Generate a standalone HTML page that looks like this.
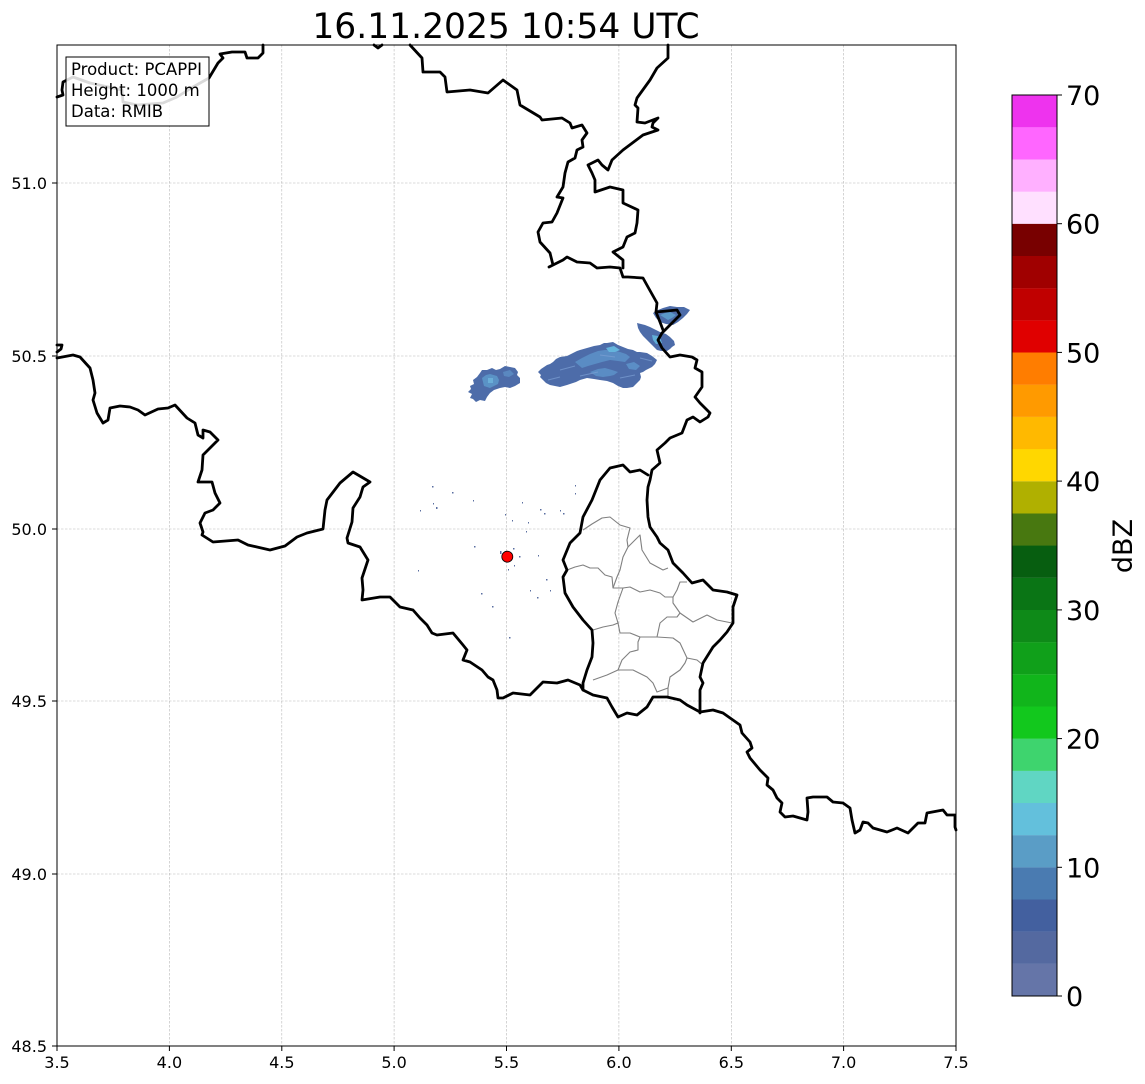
<!DOCTYPE html>
<html><head><meta charset="utf-8"><style>
html,body{margin:0;padding:0;background:#fff;}
svg{display:block;font-family:"DejaVu Sans","Liberation Sans",sans-serif;}
</style></head><body>
<svg width="1145" height="1084" viewBox="0 0 1145 1084" xmlns="http://www.w3.org/2000/svg">
<rect width="1145" height="1084" fill="#fff"/>
<text x="506" y="38" font-size="34.5" text-anchor="middle" fill="#000">16.11.2025 10:54 UTC</text>

<!-- grid -->
<g stroke="#b8b8b8" stroke-width="0.6" stroke-dasharray="2.5,1.5" fill="none">
<line x1="169.4" y1="45" x2="169.4" y2="1046"/>
<line x1="281.8" y1="45" x2="281.8" y2="1046"/>
<line x1="394.1" y1="45" x2="394.1" y2="1046"/>
<line x1="506.5" y1="45" x2="506.5" y2="1046"/>
<line x1="618.9" y1="45" x2="618.9" y2="1046"/>
<line x1="731.3" y1="45" x2="731.3" y2="1046"/>
<line x1="843.6" y1="45" x2="843.6" y2="1046"/>
<line x1="57" y1="183" x2="956" y2="183"/>
<line x1="57" y1="356" x2="956" y2="356"/>
<line x1="57" y1="529" x2="956" y2="529"/>
<line x1="57" y1="701" x2="956" y2="701"/>
<line x1="57" y1="874" x2="956" y2="874"/>
</g>

<!-- radar echoes -->
<g>
<polygon fill="#4d6ca9" points="468,392 471,389 470,386 474,384 473,380 477,377 480,373 482,370 487,370 492,368 496,370 500,369 505,366 510,367 515,368 518,372 517,375 520,378 520,383 515,386 510,388 505,387 500,388 494,390 490,393 487,397 485,401 480,400 476,402 473,399 470,398 472,394"/>
<polygon fill="#5a92c6" points="482,378 486,375 490,374 497,376 499,380 498,384 494,386 490,388 484,386"/>
<polygon fill="#6aaed8" points="488,378 493,378 493,383 488,383"/>
<polygon fill="#5a88c0" points="503,372 510,370 514,374 509,377 504,376"/>
<polygon fill="#4d6ca9" points="538,372 541,369 544,367 547,365 550,364 553,362 556,359 560,357 567,356 573,353 577,351 580,350 587,348 594,346 600,345 604,343 607,343 613,342 618,345 623,347 628,349 633,350 637,352 640,352 647,353 652,356 657,360 655,364 652,367 646,370 643,372 640,373 641,377 640,380 636,384 633,387 627,388 623,388 618,386 613,383 607,381 600,380 594,379 587,378 580,380 576,382 573,383 567,385 560,387 555,386 550,385 546,383 543,380 540,377 541,375"/>
<polygon fill="#5a8cc4" points="575,362 582,358 590,354 598,351 605,350 612,350 620,352 626,354 630,357 625,362 618,361 610,360 602,362 595,364 588,366 582,368"/>
<polygon fill="#64b4dc" points="606,348 614,346 620,350 615,352 609,352"/>
<polygon fill="#5a8cc4" points="590,372 598,369 605,368 612,370 618,372 614,375 610,376 603,377 596,376"/>
<polygon fill="#5b8ec6" points="626,364 634,362 640,366 636,370 629,369"/>
<g stroke="#7da0d4" stroke-width="1" opacity="0.7">
<line x1="560" y1="370" x2="575" y2="366"/><line x1="580" y1="376" x2="598" y2="372"/><line x1="600" y1="355" x2="615" y2="357"/><line x1="620" y1="378" x2="635" y2="375"/><line x1="548" y1="380" x2="560" y2="377"/><line x1="640" y1="358" x2="652" y2="361"/>
</g>
<polygon fill="#4d6ca9" points="637,323 641,324 645,325 650,327 656,330 660,332 666,334 670,337 674,341 675,345 672,347 670,349 667,351 661,351 657,350 652,345 647,340 643,336 640,332 638,328"/>
<polygon fill="#62b0d8" points="652,335 658,336 660,337 662,343 656,344 653,340"/>
<polygon fill="#4d6ca9" points="653,313 658,310 663,308 670,306 677,307 684,307 690,310 687,314 683,318 678,322 673,325 666,324 660,322 656,318"/>
<polygon fill="#5b98c8" points="660,315 665,313 670,312 676,315 672,318 668,320"/>
<g fill="#5a6ea0">
<rect x="432" y="486" width="1.5" height="1.5"/><rect x="452" y="492" width="1.5" height="1.5"/><rect x="436" y="507" width="1.5" height="2"/><rect x="420" y="510" width="1" height="1.5"/><rect x="474" y="546" width="1.5" height="1.5"/><rect x="473" y="500" width="1" height="1.5"/><rect x="500" y="551" width="1.5" height="3"/><rect x="513" y="548" width="1.5" height="1.5"/><rect x="519" y="556" width="1.5" height="1.5"/><rect x="514" y="565" width="1" height="1.5"/><rect x="508" y="569" width="1" height="1.5"/><rect x="492" y="606" width="1.5" height="1.5"/><rect x="537" y="597" width="1.5" height="1.5"/><rect x="546" y="579" width="1.5" height="1.5"/><rect x="575" y="485" width="1" height="1.5"/><rect x="563" y="513" width="1.5" height="1.5"/><rect x="540" y="509" width="1.5" height="1.5"/><rect x="528" y="522" width="1" height="1.5"/><rect x="505" y="514" width="1" height="1.5"/><rect x="522" y="502" width="1" height="1.5"/><rect x="509" y="637" width="1.5" height="1.5"/><rect x="418" y="570" width="1" height="1.5"/><rect x="530" y="590" width="1" height="1.5"/><rect x="544" y="513" width="1.5" height="1.5"/><rect x="560" y="510" width="1" height="1.5"/><rect x="433" y="503" width="1" height="1.5"/><rect x="481" y="593" width="1.5" height="1.5"/><rect x="526" y="531" width="1" height="1.5"/><rect x="550" y="590" width="1" height="1.5"/><rect x="512" y="520" width="1" height="1.5"/><rect x="538" y="555" width="1" height="1.5"/><rect x="575" y="493" width="1" height="1.5"/>
</g>
</g>

<!-- Luxembourg cantons -->
<g fill="none" stroke="#808080" stroke-width="1.1" stroke-linejoin="round">
<polyline points="583,530 592,524 602,518 610,517 620,525 630,528 627,540 628,547 623,557 620,570 617,577 613,588"/>
<polyline points="628,547 640,535 642,550 650,563 663,570 668,568"/>
<polyline points="567,570 575,567 583,565 590,568 598,568 605,575 612,577 613,588 623,588 630,587 640,592 650,590 660,593 665,597 673,597 677,590 680,582 687,582"/>
<polyline points="623,588 618,602 615,613 618,623 613,625 603,627 593,630"/>
<polyline points="673,597 673,603 680,613 677,617 667,617 660,623 657,637"/>
<polyline points="680,613 693,622 707,615 717,620 732,623"/>
<polyline points="618,623 620,633 630,633 640,637 657,637 673,638 680,643 687,658 697,660 703,665"/>
<polyline points="640,637 638,642 638,650 630,652 622,660 618,670 607,675 593,680"/>
<polyline points="618,670 633,670 647,677 653,683 657,692 668,688 670,677 680,670 685,663 687,658"/>
<polyline points="668,688 668,697"/>
</g>

<!-- country borders -->
<g fill="none" stroke="#000" stroke-width="2.8" stroke-linejoin="round" stroke-linecap="round">
<polyline points="57,97 63,95 62,90 63,82 73,77 90,83 122,90 123,102 137,105 163,103 177,97 193,87 209,78 218,63 223,58 220,54 232,52 245,52 247,58 258,58 263,53 263,45"/>
<polyline points="374,45 378,48 382,45"/>
<polyline points="410,45 422,58 423,72 440,72 445,77 447,92 470,90 488,93 503,80 517,90 520,105 540,117 542,120 562,118 570,123 572,128 582,125 587,133 582,140 583,147 577,150 575,158 568,162 565,173 563,187 557,197 563,198 557,213 552,222 543,223 538,232 540,242 550,253 553,265 549,267 563,260 567,257 577,262 590,263 597,268 610,267 620,268 623,277 628,277 643,278 648,287 657,303 656,312 677,310 680,315 672,323 662,333 658,340 662,348 670,357 680,355 692,357 697,360 695,368 702,372 702,387 695,397 700,403 710,413 708,417 700,422 693,417 687,420 682,433 670,438 665,443 657,450 660,463 652,470 650,480 648,487 647,500 648,517 650,527 657,537 660,543 668,550 673,563 683,573 692,583 703,580 713,590 727,592 737,595 733,607 733,623 727,632 720,640 713,647 703,663 700,677 703,683 700,690 700,713"/>
<polyline points="656,312 660,322 663,330"/>
<polyline points="668,45 668,58 657,68 650,80 637,98 635,105 638,108 637,122 645,123 658,118 653,123 652,127 658,130 643,135 623,150 612,160 608,170 602,165 598,160 588,165 592,173 595,180 595,192 610,187 623,190 623,203 638,210 637,223 635,233 627,237 623,247 613,252 623,260 623,268"/>
<polyline points="57,345 62,345 61,349 57,352"/>
<polyline points="57,358 73,355 80,357 90,368 93,380 95,393 93,400 97,413 103,423 108,420 110,408 120,406 130,407 138,410 145,415 158,409 168,408 175,405 187,418 195,423 198,435 203,438 203,430 210,432 218,440 210,448 203,455 202,470 198,482 212,482 215,493 220,503 213,510 205,513 200,523 203,532 202,535 213,542 238,540 248,545 270,550 285,546 297,537 307,533 323,529 325,510 327,500 340,483 353,472 370,482 363,487 360,497 353,508 352,522 347,538 348,543 360,547 368,560 362,578 363,590 362,600 380,597 390,597 400,607 413,610 420,618 427,625 432,633 437,635 453,633 463,645 467,650 463,660 470,662 482,670 488,677 493,680 497,690 498,698 503,698 513,693 530,695 543,682 557,683 568,680 580,685 583,690 593,695 607,698 612,707 618,717 627,713 637,715 647,707 653,697 667,697 680,700 687,705 700,712 713,710 723,713 740,725 742,733 750,742 752,748 747,752 750,758 760,770 768,778 767,785 773,790 777,798 782,803 780,812 785,817 793,816 807,820 808,812 807,798 813,797 827,797 833,802 843,803 850,808 852,820 855,833 860,830 863,822 868,823 873,828 887,832 897,828 908,833 918,823 925,823 927,813 943,810 947,815 955,815 955,827 956,830"/>
<polyline points="648,475 640,470 630,472 623,465 610,468 600,480 592,500 583,517 580,533 570,543 563,560 567,570 563,577 565,593 573,607 583,620 592,630 593,643 592,657 587,670 583,683 583,690"/>
</g>

<!-- radar site -->
<circle cx="507.3" cy="556.7" r="5.5" fill="#ff0000" stroke="#000" stroke-width="0.8"/>

<!-- info box -->
<rect x="66" y="57" width="143" height="69" fill="#fff" fill-opacity="0.85" stroke="#000" stroke-width="1"/>
<g font-size="16.5" fill="#000">
<text x="71" y="75">Product: PCAPPI</text>
<text x="71" y="96">Height: 1000 m</text>
<text x="71" y="117">Data: RMIB</text>
</g>

<!-- frame -->
<rect x="57" y="45" width="899" height="1001" fill="none" stroke="#000" stroke-width="1"/>

<!-- ticks -->
<g stroke="#000" stroke-width="1">
<line x1="57" y1="1046" x2="57" y2="1051"/><line x1="169.4" y1="1046" x2="169.4" y2="1051"/><line x1="281.8" y1="1046" x2="281.8" y2="1051"/><line x1="394.1" y1="1046" x2="394.1" y2="1051"/><line x1="506.5" y1="1046" x2="506.5" y2="1051"/><line x1="618.9" y1="1046" x2="618.9" y2="1051"/><line x1="731.3" y1="1046" x2="731.3" y2="1051"/><line x1="843.6" y1="1046" x2="843.6" y2="1051"/><line x1="956" y1="1046" x2="956" y2="1051"/>
<line x1="52" y1="183" x2="57" y2="183"/><line x1="52" y1="356" x2="57" y2="356"/><line x1="52" y1="529" x2="57" y2="529"/><line x1="52" y1="701" x2="57" y2="701"/><line x1="52" y1="874" x2="57" y2="874"/><line x1="52" y1="1046" x2="57" y2="1046"/>
</g>
<g font-size="16" fill="#000" text-anchor="middle">
<text x="57" y="1068">3.5</text><text x="169.4" y="1068">4.0</text><text x="281.8" y="1068">4.5</text><text x="394.1" y="1068">5.0</text><text x="506.5" y="1068">5.5</text><text x="618.9" y="1068">6.0</text><text x="731.3" y="1068">6.5</text><text x="843.6" y="1068">7.0</text><text x="956" y="1068">7.5</text>
</g>
<g font-size="16" fill="#000" text-anchor="end">
<text x="47" y="189">51.0</text><text x="47" y="362">50.5</text><text x="47" y="535">50.0</text><text x="47" y="707">49.5</text><text x="47" y="880">49.0</text><text x="47" y="1052">48.5</text>
</g>

<!-- colorbar -->
<g>
<rect x="1012" y="963.8" width="45" height="32.2" fill="#6575a8"/>
<rect x="1012" y="931.6" width="45" height="32.3" fill="#5469a0"/>
<rect x="1012" y="899.4" width="45" height="32.3" fill="#43609f"/>
<rect x="1012" y="867.3" width="45" height="32.2" fill="#4a7bb1"/>
<rect x="1012" y="835.1" width="45" height="32.3" fill="#5a9dc6"/>
<rect x="1012" y="802.9" width="45" height="32.3" fill="#63c0dc"/>
<rect x="1012" y="770.8" width="45" height="32.2" fill="#60d6c3"/>
<rect x="1012" y="738.6" width="45" height="32.3" fill="#3ed46e"/>
<rect x="1012" y="706.4" width="45" height="32.3" fill="#12c81d"/>
<rect x="1012" y="674.2" width="45" height="32.3" fill="#11b51b"/>
<rect x="1012" y="642.1" width="45" height="32.2" fill="#10a01a"/>
<rect x="1012" y="609.9" width="45" height="32.3" fill="#0e8a18"/>
<rect x="1012" y="577.7" width="45" height="32.3" fill="#0a7515"/>
<rect x="1012" y="545.5" width="45" height="32.3" fill="#075e10"/>
<rect x="1012" y="513.4" width="45" height="32.2" fill="#487810"/>
<rect x="1012" y="481.2" width="45" height="32.3" fill="#b0b000"/>
<rect x="1012" y="449.0" width="45" height="32.3" fill="#ffd700"/>
<rect x="1012" y="416.8" width="45" height="32.3" fill="#ffb900"/>
<rect x="1012" y="384.6" width="45" height="32.3" fill="#ff9a00"/>
<rect x="1012" y="352.4" width="45" height="32.3" fill="#ff7d00"/>
<rect x="1012" y="320.3" width="45" height="32.2" fill="#e00000"/>
<rect x="1012" y="288.1" width="45" height="32.3" fill="#c00000"/>
<rect x="1012" y="255.9" width="45" height="32.3" fill="#a00000"/>
<rect x="1012" y="223.7" width="45" height="32.3" fill="#780000"/>
<rect x="1012" y="191.6" width="45" height="32.2" fill="#ffe0ff"/>
<rect x="1012" y="159.4" width="45" height="32.3" fill="#ffb0ff"/>
<rect x="1012" y="127.2" width="45" height="32.3" fill="#ff66ff"/>
<rect x="1012" y="95" width="45" height="32.3" fill="#ee33ee"/>
<rect x="1012" y="95" width="45" height="901" fill="none" stroke="#000" stroke-width="1"/>
</g>
<g stroke="#000" stroke-width="1">
<line x1="1057" y1="996" x2="1062" y2="996"/><line x1="1057" y1="867.3" x2="1062" y2="867.3"/><line x1="1057" y1="738.6" x2="1062" y2="738.6"/><line x1="1057" y1="609.9" x2="1062" y2="609.9"/><line x1="1057" y1="481.1" x2="1062" y2="481.1"/><line x1="1057" y1="352.4" x2="1062" y2="352.4"/><line x1="1057" y1="223.7" x2="1062" y2="223.7"/><line x1="1057" y1="95" x2="1062" y2="95"/>
</g>
<g font-size="27" fill="#000">
<text x="1066" y="1006">0</text><text x="1066" y="877.3">10</text><text x="1066" y="748.6">20</text><text x="1066" y="619.9">30</text><text x="1066" y="491.1">40</text><text x="1066" y="362.4">50</text><text x="1066" y="233.7">60</text><text x="1066" y="105">70</text>
</g>
<text transform="translate(1132,546) rotate(-90)" font-size="27" text-anchor="middle" fill="#000">dBZ</text>
</svg>
</body></html>
